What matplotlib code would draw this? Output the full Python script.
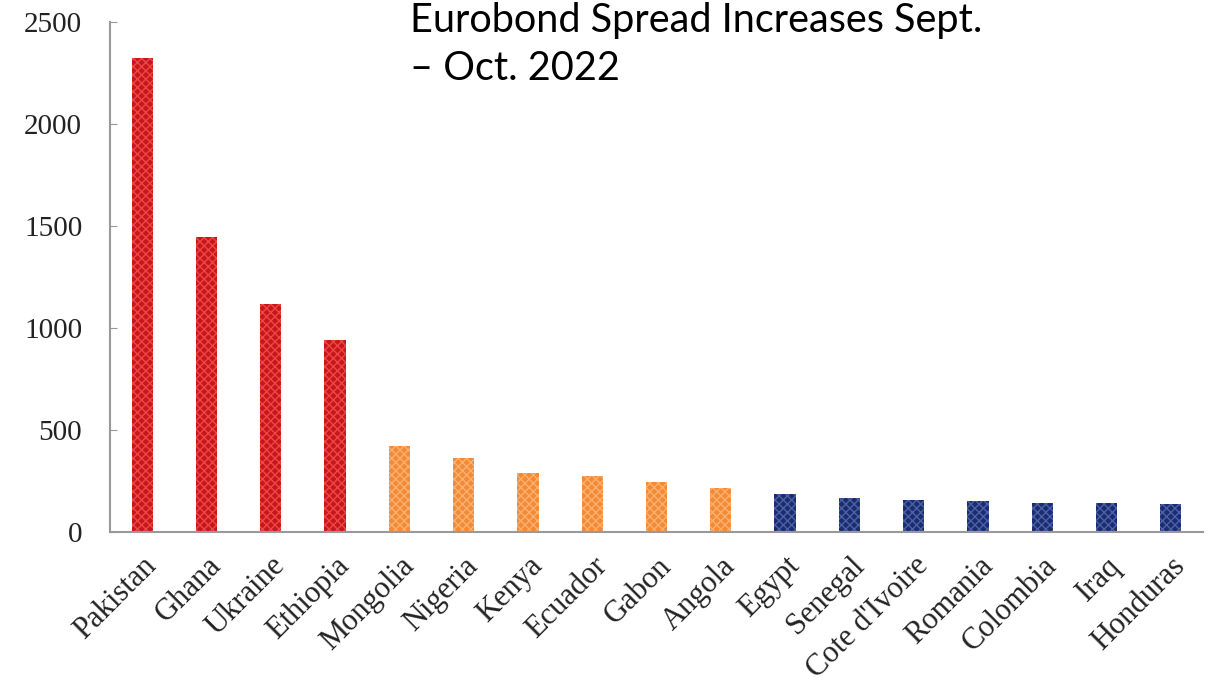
import matplotlib.pyplot as plt

# Eurobond spread increases (bp), Sept. - Oct. 2022
countries = ["Pakistan", "Ghana", "Ukraine", "Ethiopia", "Mongolia", "Nigeria",
             "Kenya", "Ecuador", "Gabon", "Angola", "Egypt", "Senegal",
             "Cote d'Ivoire", "Romania", "Colombia", "Iraq", "Honduras"]
spread_increase = [2322, 1447, 1120, 940, 422, 362, 290, 275, 243, 214,
                   184, 165, 159, 153, 143, 143, 135]
groups = ["high"] * 4 + ["mid"] * 6 + ["low"] * 7

fill = {"high": "#c8161a", "mid": "#f28a36", "low": "#1c2c6c"}
dots = {"high": "#ea4848", "mid": "#fbb070", "low": "#4a62a8"}

plt.rcParams["hatch.linewidth"] = 1.0

fig = plt.figure(figsize=(12.18, 6.84), dpi=100)
ax = fig.add_axes([0.0903, 0.2222, 0.8974, 0.7456])

x = range(len(countries))
for i, (v, g) in enumerate(zip(spread_increase, groups)):
    ax.bar(i, v, width=0.33, color=fill[g], edgecolor=dots[g],
           hatch="xxxx", linewidth=0)

ax.set_xlim(-0.5, len(countries) - 0.5)
ax.set_ylim(0, 2500)
ax.set_yticks([0, 500, 1000, 1500, 2000, 2500])
ax.set_xticks(list(x))
ax.set_xticklabels(countries, rotation=45, ha="right", va="top",
                   rotation_mode="anchor", family="Liberation Serif",
                   fontsize=22, color="#222222")
for lab in ax.get_yticklabels():
    lab.set_family("Liberation Serif")
    lab.set_fontsize(21)
    lab.set_color("#222222")

ax.tick_params(axis="y", direction="in", length=5, color="#999999", pad=20)
ax.tick_params(axis="x", length=0, pad=14)

for s in ["top", "right"]:
    ax.spines[s].set_visible(False)
for s in ["left", "bottom"]:
    ax.spines[s].set_color("#999999")
    ax.spines[s].set_linewidth(1.5)

fig.text(410 / 1218, 1 - 32 / 684, "Eurobond Spread Increases Sept.",
         family="Lato", fontsize=28.5, va="baseline", ha="left", color="black")
fig.text(410 / 1218, 1 - 80 / 684, "\u2013 Oct. 2022",
         family="Lato", fontsize=28.5, va="baseline", ha="left", color="black")

fig.savefig("out.png", dpi=100)
